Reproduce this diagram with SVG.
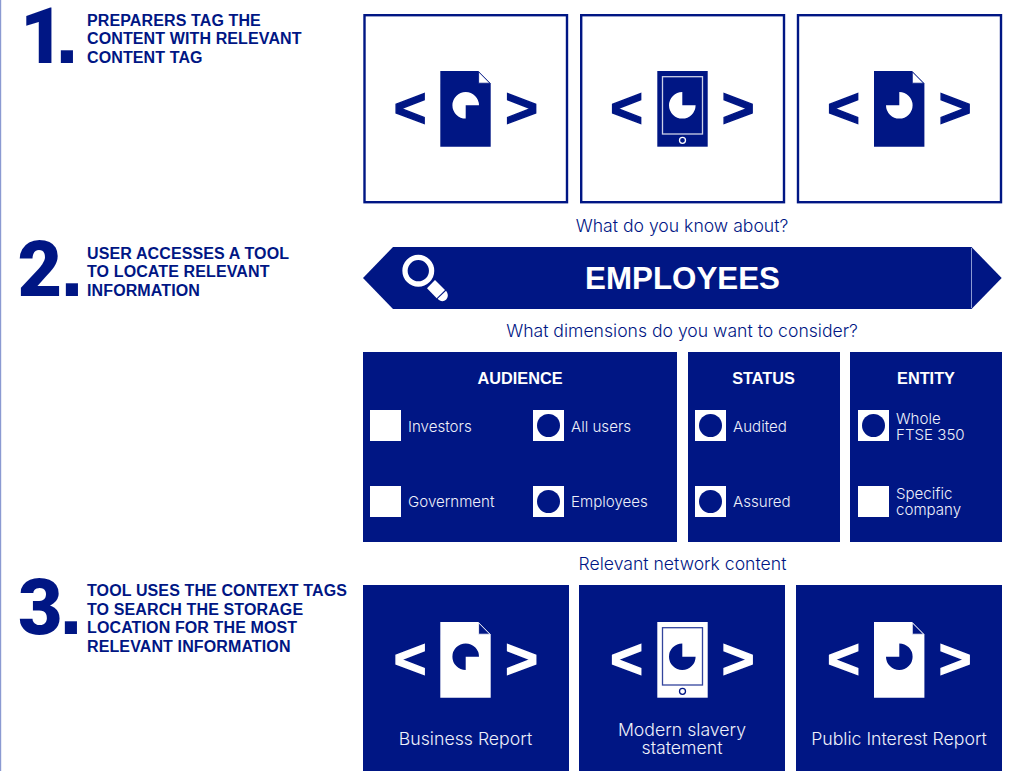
<svg xmlns="http://www.w3.org/2000/svg" xmlns:xlink="http://www.w3.org/1999/xlink" width="1011" height="771" viewBox="0 0 1011 771">
<style>
text{font-family:"Liberation Sans",Arial,sans-serif}
.dark{--fg:#001684;--bg:#fff}
.light{--fg:#fff;--bg:#001684}
.num{font-family:Roboto,"Liberation Sans",sans-serif;font-size:77px;font-weight:900;fill:#001684}
.numdot{font-family:"Liberation Sans",Arial,sans-serif;font-size:86px;font-weight:700}
.step{font-size:16px;font-weight:700;fill:#001684;letter-spacing:.12px}
.cap{font-family:Inter,"Liberation Sans",sans-serif;font-weight:300;font-size:17.6px;fill:#001684;text-anchor:middle}
.chev{font-size:56px;font-weight:700;text-anchor:middle;stroke-width:1.4}
.dark .chev{fill:#001684;stroke:#001684}
.light .chev{fill:#fff;stroke:#fff}
.frame{fill:#fff;stroke:#001684;stroke-width:2.4}
.panel{fill:#001684}
.head{font-size:16.3px;font-weight:700;fill:#fff;text-anchor:middle}
.opt{font-family:Inter,"Liberation Sans",sans-serif;font-weight:300;font-size:15.1px;fill:#eef0fa}
.lab{font-family:Inter,"Liberation Sans",sans-serif;font-weight:300;font-size:17.7px;fill:#eef0fa;text-anchor:middle}
.box{fill:#fff}
.dot{fill:#001684}
</style>
<defs>
<path id="docshape" d="M0 0H38L50.4 12.5V75.7H0Z" style="fill:var(--fg)"/>
<g id="doc">
<use href="#docshape"/>
<path d="M38.3 .8V12.2H49.6Z" style="fill:var(--bg);stroke:var(--fg);stroke-width:.8"/>
</g>
<g id="phone">
<rect width="50.4" height="75.7" style="fill:var(--fg)"/>
<rect x="5.2" y="5.7" width="40" height="57.3" style="fill:none;stroke:var(--bg);stroke-width:1.3;opacity:.8"/>
<circle cx="25.2" cy="69.3" r="3" style="fill:none;stroke:var(--bg);stroke-width:1.3"/>
</g>
<path id="pie-a" d="M0 0V13.3A13.3 13.3 0 1 1 13.3 0Z" style="fill:var(--bg)"/>
<path id="pie-b" d="M0 0H13.3A13.3 13.3 0 1 1 0-13.3Z" style="fill:var(--bg)"/>
<path id="pie-c" d="M0 0V-13.3A13.3 13.3 0 1 1-13.3 0Z" style="fill:var(--bg)"/>
</defs>
<rect width="1011" height="771" fill="#fff"/>
<rect id="edge" x="0" y="0" width="1.2" height="771" fill="#8b9ad2"/>

<g id="step1">
<text class="num" x="20" y="63">1<tspan class="numdot" x="55" y="63">.</tspan></text>
<text class="step" x="87" y="25.5">PREPARERS TAG THE</text>
<text class="step" x="87" y="44">CONTENT WITH RELEVANT</text>
<text class="step" x="87" y="62.5">CONTENT TAG</text>
</g>
<g id="step2">
<text class="num" x="17.5" y="296">2<tspan class="numdot" x="60" y="296">.</tspan></text>
<text class="step" x="87" y="259">USER ACCESSES A TOOL</text>
<text class="step" x="87" y="277">TO LOCATE RELEVANT</text>
<text class="step" x="87" y="295.5">INFORMATION</text>
</g>
<g id="step3">
<text class="num" x="18" y="634">3<tspan class="numdot" x="59" y="633.5">.</tspan></text>
<text class="step" x="87" y="596">TOOL USES THE CONTEXT TAGS</text>
<text class="step" x="87" y="614.5">TO SEARCH THE STORAGE</text>
<text class="step" x="87" y="633">LOCATION FOR THE MOST</text>
<text class="step" x="87" y="651.5">RELEVANT INFORMATION</text>
</g>

<g id="tag-card-1" class="dark">
<rect class="frame" x="364.5" y="15.2" width="202.5" height="187"/>
<text class="chev" x="410" y="127">&lt;</text><text class="chev" x="521.5" y="127">&gt;</text>
<use href="#doc" x="440.3" y="71"/><use href="#pie-a" x="465.7" y="105.3"/>
</g>
<g id="tag-card-2" class="dark">
<rect class="frame" x="581.2" y="15.2" width="202.8" height="187"/>
<text class="chev" x="626.5" y="127">&lt;</text><text class="chev" x="738" y="127">&gt;</text>
<use href="#phone" x="657.3" y="71"/><use href="#pie-b" x="682.3" y="105.3"/>
</g>
<g id="tag-card-3" class="dark">
<rect class="frame" x="798" y="15.2" width="203" height="187"/>
<text class="chev" x="843.5" y="127">&lt;</text><text class="chev" x="955" y="127">&gt;</text>
<use href="#doc" x="874" y="71"/><use href="#pie-c" x="899.3" y="105.3"/>
</g>

<text id="caption-1" class="cap" x="682" y="232">What do you know about?</text>

<g id="search-bar">
<path d="M393 247H971.5V247L1001.7 278L971.5 309H393L363 278Z" fill="#001684"/>
<path d="M971.5 248V308" stroke="#8b9ad2" stroke-width="1" fill="none"/>
<circle cx="418.3" cy="270.7" r="13.3" fill="none" stroke="#fff" stroke-width="5.3"/>
<path d="M427 288.3L435 280L445 290L436.7 298.3Z" fill="#fff"/>
<path d="M437.6 298.8L446 290.8C448.6 294 448.2 297.6 446 299.8C443.6 302 440 301.6 437.6 298.8Z" fill="#fff"/>
<text x="682.5" y="289" font-size="31.3" font-weight="700" fill="#fff" text-anchor="middle">EMPLOYEES</text>
</g>

<text id="caption-2" class="cap" x="682" y="337">What dimensions do you want to consider?</text>

<g id="audience">
<rect class="panel" x="363" y="352" width="314" height="190"/>
<text class="head" x="520" y="384">AUDIENCE</text>
<rect class="box" x="370" y="410" width="31" height="31"/><text class="opt" x="408" y="432">Investors</text>
<rect class="box" x="533" y="410" width="31" height="31"/><circle class="dot" cx="548.5" cy="425.5" r="11.5"/><text class="opt" x="571" y="432">All users</text>
<rect class="box" x="370" y="486" width="31" height="31"/><text class="opt" x="408" y="507">Government</text>
<rect class="box" x="533" y="486" width="31" height="31"/><circle class="dot" cx="548.5" cy="501.5" r="11.5"/><text class="opt" x="571" y="507">Employees</text>
</g>
<g id="status">
<rect class="panel" x="688" y="352" width="152" height="190"/>
<text class="head" x="763.5" y="384">STATUS</text>
<rect class="box" x="695" y="410" width="31" height="31"/><circle class="dot" cx="710.5" cy="425.5" r="11.5"/><text class="opt" x="733" y="432">Audited</text>
<rect class="box" x="695" y="486" width="31" height="31"/><circle class="dot" cx="710.5" cy="501.5" r="11.5"/><text class="opt" x="733" y="507">Assured</text>
</g>
<g id="entity">
<rect class="panel" x="850" y="352" width="152" height="190"/>
<text class="head" x="926" y="384">ENTITY</text>
<rect class="box" x="858" y="410" width="31" height="31"/><circle class="dot" cx="873.5" cy="425.5" r="11.5"/>
<text class="opt" x="896" y="424">Whole<tspan x="896" y="440">FTSE 350</tspan></text>
<rect class="box" x="858" y="486" width="31" height="31"/>
<text class="opt" x="896" y="499">Specific<tspan x="896" y="515">company</tspan></text>
</g>

<text id="caption-3" class="cap" x="682.5" y="570">Relevant network content</text>

<g id="result-1" class="light">
<rect class="panel" x="363" y="585" width="206" height="186"/>
<text class="chev" x="410" y="678">&lt;</text><text class="chev" x="521.5" y="678">&gt;</text>
<use href="#doc" x="440.3" y="622"/><use href="#pie-a" x="465.7" y="656.7"/>
<text class="lab" x="465.5" y="745">Business Report</text>
</g>
<g id="result-2" class="light">
<rect class="panel" x="579" y="585" width="206" height="186"/>
<text class="chev" x="626.5" y="678">&lt;</text><text class="chev" x="738" y="678">&gt;</text>
<use href="#phone" x="657.3" y="622"/><use href="#pie-b" x="682.3" y="656.7"/>
<text class="lab" x="682" y="736">Modern slavery<tspan x="682" y="754">statement</tspan></text>
</g>
<g id="result-3" class="light">
<rect class="panel" x="796" y="585" width="206" height="186"/>
<text class="chev" x="843.5" y="678">&lt;</text><text class="chev" x="955" y="678">&gt;</text>
<use href="#doc" x="874" y="622"/><use href="#pie-c" x="899.3" y="656.7"/>
<text class="lab" x="899" y="745">Public Interest Report</text>
</g>
</svg>
